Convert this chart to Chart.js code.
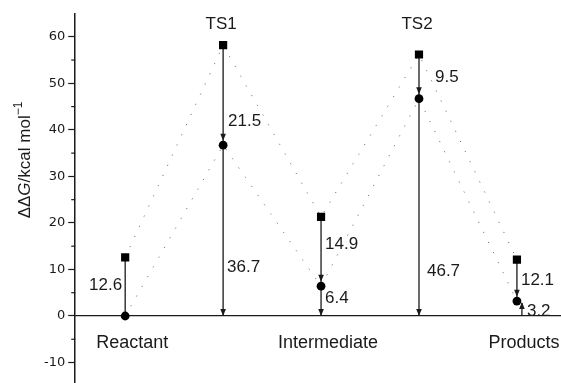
<!DOCTYPE html>
<html><head><meta charset="utf-8">
<script src="https://cdn.jsdelivr.net/npm/chart.js@4/dist/chart.umd.min.js"></script>
<style>html,body{margin:0;padding:0;background:#fff;} canvas{display:block}</style>
</head><body>
<canvas id="c" width="561" height="383"></canvas>
<script>
// ---- data ----
const stateNames = ['Reactant', 'TS1', 'Intermediate', 'TS2', 'Products'];
const topLabelStates = ['TS1', 'TS2'];
const squareValues = [12.6, 58.2, 21.3, 56.2, 12.1];
const circleValues = [0, 36.7, 6.4, 46.7, 3.2];
const gapLabels = ['12.6', '21.5', '14.9', '9.5', '12.1'];
const baseLabels = ['', '36.7', '6.4', '46.7', '3.2'];
const yTickLabels = [-10, 0, 10, 20, 30, 40, 50, 60];

// ---- label placement (style) ----
const gapLabelPlace = [{y: 6.7, dx: -3, align: 'right'}, {y: 41.9, dx: 5}, {y: 15.3, dx: 4}, {y: 51.4, dx: 16}, {y: 7.7, dx: 4}];
const baseLabelPlace = [null, {y: 10.5, dx: 4}, {y: 3.9, dx: 4}, {y: 9.5, dx: 8}, {y: 1.1, dx: 10}];

const INK = '#1a1a1a';
const CIRCLE_R = 4.4;
const FONT = '"Liberation Sans", Arial, Helvetica, sans-serif';

const datasets = [
  {
    label: 'squares',
    data: stateNames.map((n, i) => ({x: i, y: squareValues[i]})),
    borderColor: '#777', borderWidth: 1, borderDash: [1.2, 10],
    pointStyle: 'rect', pointRadius: 5.8, pointBackgroundColor: '#000', pointBorderWidth: 0,
    showLine: true, fill: false
  },
  {
    label: 'circles',
    data: stateNames.map((n, i) => ({x: i, y: circleValues[i]})),
    borderColor: '#777', borderWidth: 1, borderDash: [1.2, 10],
    pointStyle: 'circle', pointRadius: CIRCLE_R, pointBackgroundColor: '#000', pointBorderWidth: 0,
    showLine: true, fill: false
  }
];
stateNames.forEach((n, i) => {
  if (squareValues[i] > circleValues[i]) {
    datasets.push({
      label: 'gap' + i, arrow: circleValues[i] > 0, arrowGap: CIRCLE_R,
      data: [{x: i, y: squareValues[i]}, {x: i, y: circleValues[i]}],
      borderColor: INK, borderWidth: 1.3, pointRadius: 0, showLine: true
    });
  }
  if (circleValues[i] > 0 && i < stateNames.length - 1) {
    datasets.push({
      label: 'base' + i, arrow: true, arrowGap: 0,
      data: [{x: i, y: circleValues[i]}, {x: i, y: 0}],
      borderColor: INK, borderWidth: 1.3, pointRadius: 0, showLine: true
    });
  }
});

function arrowHead(ctx, x, tipY, dir) {
  ctx.beginPath();
  ctx.moveTo(x, tipY);
  ctx.lineTo(x - 2.8, tipY - dir * 7);
  ctx.lineTo(x + 2.8, tipY - dir * 7);
  ctx.closePath();
  ctx.fill();
}

const annot = {
  id: 'annot',
  afterDatasetsDraw(chart) {
    const {ctx, scales: {x, y}, chartArea} = chart;
    ctx.save();
    ctx.fillStyle = INK;
    ctx.strokeStyle = INK;
    chart.data.datasets.forEach((ds, di) => {
      if (!ds.arrow) return;
      const meta = chart.getDatasetMeta(di);
      const p0 = meta.data[0], p1 = meta.data[1];
      const dir = Math.sign(p1.y - p0.y);
      arrowHead(ctx, p1.x, p1.y - dir * ds.arrowGap, dir);
    });
    const last = stateNames.length - 1;
    const lx = x.getPixelForValue(last) + 5;
    const y0 = y.getPixelForValue(0), y1 = y.getPixelForValue(circleValues[last]);
    ctx.lineWidth = 1.3;
    ctx.beginPath(); ctx.moveTo(lx, y0); ctx.lineTo(lx, y1 + 2); ctx.stroke();
    arrowHead(ctx, lx, y1 + 1, -1);

    ctx.font = '17px ' + FONT;
    ctx.textBaseline = 'middle';
    gapLabels.forEach((t, i) => {
      const p = gapLabelPlace[i]; if (!t || !p) return;
      ctx.textAlign = p.align || 'left';
      ctx.fillText(t, x.getPixelForValue(i) + p.dx, y.getPixelForValue(p.y));
    });
    baseLabels.forEach((t, i) => {
      const p = baseLabelPlace[i]; if (!t || !p) return;
      ctx.textAlign = p.align || 'left';
      ctx.fillText(t, x.getPixelForValue(i) + p.dx, y.getPixelForValue(p.y));
    });
    ctx.textAlign = 'center';
    topLabelStates.forEach(name => {
      const i = stateNames.indexOf(name);
      ctx.fillText(name, x.getPixelForValue(i) - 2, chartArea.top + 10);
    });
    ctx.lineWidth = 1.2;
    for (let v = Math.ceil(y.min / 5) * 5; v <= y.max; v += 5) {
      if (v % 10 === 0) continue;
      const py = y.getPixelForValue(v);
      ctx.beginPath(); ctx.moveTo(chartArea.left - 4, py); ctx.lineTo(chartArea.left, py); ctx.stroke();
    }
    ctx.translate(25, 160);
    ctx.rotate(-Math.PI / 2);
    ctx.textBaseline = 'middle';
    const parts = [
      {t: '\u0394\u0394', f: '17px ' + FONT, dy: 0},
      {t: 'G', f: 'italic 17px ' + FONT, dy: 0},
      {t: '/kcal mol', f: '17px ' + FONT, dy: 0},
      {t: '\u22121', f: '12px ' + FONT, dy: -6}
    ];
    let total = 0;
    parts.forEach(p => { ctx.font = p.f; p.w = ctx.measureText(p.t).width; total += p.w; });
    let cx = -total / 2;
    ctx.textAlign = 'left';
    parts.forEach(p => { ctx.font = p.f; ctx.fillText(p.t, cx, p.dy); cx += p.w; });
    ctx.restore();
  }
};

const noEdgePadding = s => { s.paddingTop = 0; s.paddingBottom = 0; s.paddingLeft = 0; s.paddingRight = 0; };

new Chart(document.getElementById('c'), {
  type: 'scatter',
  data: {datasets},
  options: {
    responsive: false,
    animation: false,
    layout: {autoPadding: false, padding: {left: 41, top: 14, right: 0, bottom: 0}},
    plugins: {legend: {display: false}, tooltip: {enabled: false}},
    scales: {
      x: {
        type: 'linear',
        position: {y: 0},
        min: -0.51, max: 4.45,
        afterBuildTicks: s => { s.ticks = stateNames.map((n, i) => ({value: i})); },
        afterFit: noEdgePadding,
        grid: {display: false, drawTicks: false},
        border: {display: true, color: INK, width: 1.3},
        ticks: {
          padding: 16, labelOffset: 7, color: INK, maxRotation: 0, autoSkip: false,
          font: {family: FONT, size: 18},
          callback: v => (topLabelStates.includes(stateNames[v]) ? '' : stateNames[v])
        }
      },
      y: {
        type: 'linear',
        min: -14.4, max: 64.9,
        afterBuildTicks: s => { s.ticks = yTickLabels.map(v => ({value: v})); },
        afterFit: noEdgePadding,
        grid: {drawOnChartArea: false, drawTicks: true, tickLength: 7, tickColor: INK, tickWidth: 1.2},
        border: {display: true, color: INK, width: 1.5},
        ticks: {
          padding: 3, color: INK, autoSkip: false,
          font: {family: '"DejaVu Sans", sans-serif', size: 13}
        }
      }
    }
  },
  plugins: [annot]
});
</script>
</body></html>
